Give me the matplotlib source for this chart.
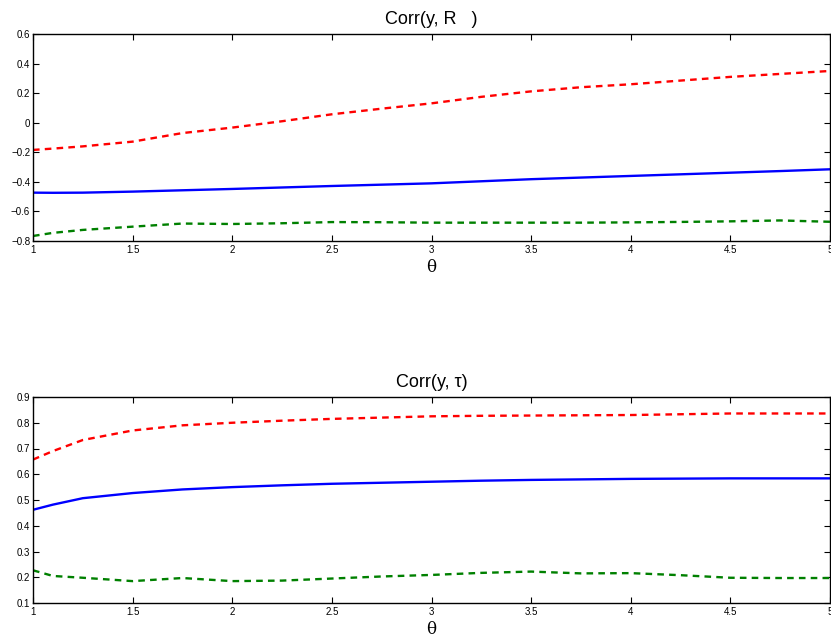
import matplotlib
matplotlib.use("Agg")
import matplotlib.pyplot as plt
import numpy as np

plt.rcParams['font.family'] = ['Liberation Sans', 'DejaVu Sans']

# Top panel: Corr(y, R)
theta_top = [1.0, 1.1, 1.25, 1.5, 1.75, 2.0, 2.25, 2.5, 2.75, 3.0, 3.25, 3.5, 3.75, 4.0, 4.25, 4.5, 4.75, 5.0]
top_upper = [-0.184, -0.175, -0.16, -0.128, -0.07, -0.033, 0.01, 0.057, 0.095, 0.131, 0.175, 0.212, 0.24, 0.26, 0.285, 0.31, 0.33, 0.35]
top_mean = [-0.473, -0.474, -0.473, -0.466, -0.457, -0.448, -0.438, -0.428, -0.419, -0.41, -0.396, -0.382, -0.371, -0.36, -0.349, -0.338, -0.327, -0.315]
top_lower = [-0.766, -0.745, -0.725, -0.703, -0.682, -0.685, -0.68, -0.672, -0.673, -0.676, -0.676, -0.676, -0.676, -0.674, -0.671, -0.667, -0.661, -0.67]

# Bottom panel: Corr(y, tau)
theta_bot = [1.0, 1.1, 1.25, 1.5, 1.75, 2.0, 2.25, 2.5, 2.75, 3.0, 3.25, 3.5, 3.75, 4.0, 4.25, 4.5, 4.75, 5.0]
bot_upper = [0.657, 0.69, 0.733, 0.77, 0.79, 0.80, 0.808, 0.815, 0.82, 0.825, 0.827, 0.828, 0.829, 0.83, 0.833, 0.836, 0.836, 0.836]
bot_mean = [0.462, 0.482, 0.507, 0.527, 0.541, 0.55, 0.557, 0.563, 0.567, 0.571, 0.575, 0.578, 0.58, 0.582, 0.583, 0.584, 0.584, 0.584]
bot_lower = [0.227, 0.205, 0.198, 0.185, 0.197, 0.185, 0.187, 0.195, 0.203, 0.209, 0.217, 0.222, 0.215, 0.216, 0.208, 0.198, 0.197, 0.197]

xticks = [1, 1.5, 2, 2.5, 3, 3.5, 4, 4.5, 5]
xticklabels = ['1', '1.5', '2', '2.5', '3', '3.5', '4', '4.5', '5']
top_yticks = [-0.8, -0.6, -0.4, -0.2, 0, 0.2, 0.4, 0.6]
bot_yticks = [0.1, 0.2, 0.3, 0.4, 0.5, 0.6, 0.7, 0.8, 0.9]

fig = plt.figure(figsize=(8.31, 6.4), dpi=100)
ax1 = fig.add_axes([33/831, 1-241/640, 797/831, 207/640])
ax2 = fig.add_axes([33/831, 1-603/640, 797/831, 206/640])

def style(ax, x, up, mean, lo, yticks, ylim, title):
    ax.plot(x, up, color='red', lw=1.7, ls=(0, (2.8, 2.2)))
    ax.plot(x, mean, color='blue', lw=1.7, ls='-')
    ax.plot(x, lo, color='green', lw=1.7, ls=(0, (2.8, 2.2)))
    ax.set_xlim(1, 5)
    ax.set_ylim(*ylim)
    ax.set_xticks(xticks)
    ax.set_xticklabels(xticklabels)
    ax.set_yticks(yticks)
    ax.set_yticklabels([('%g' % v).replace('-', '\u2212') for v in yticks])
    ax.tick_params(direction='in', top=True, right=True, labelsize=7, length=4, width=0.8, pad=3)
    ax.tick_params(axis='y', pad=2)
    for s in ax.spines.values():
        s.set_linewidth(1.0)
    ax.set_title(title, fontsize=13, pad=7)
    ax.set_xlabel('θ', fontsize=12, family=['DejaVu Serif'], labelpad=3)

style(ax1, theta_top, top_upper, top_mean, top_lower, top_yticks, (-0.8, 0.6), 'Corr(y, R   )')
style(ax2, theta_bot, bot_upper, bot_mean, bot_lower, bot_yticks, (0.1, 0.9), 'Corr(y, τ)')

fig.savefig('out.png', dpi=100)
